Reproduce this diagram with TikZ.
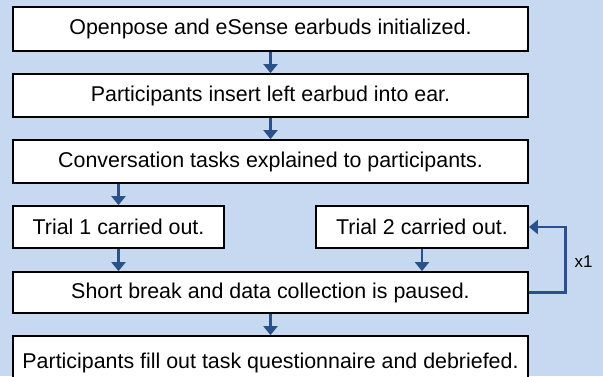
\documentclass[tikz,border=0pt]{standalone}
\usepackage{fontspec}
\setmainfont{Liberation Sans}
\usetikzlibrary{arrows.meta}
\definecolor{bgblue}{HTML}{C6D9F1}
\definecolor{flowblue}{HTML}{2A5189}
\tikzset{
  stepbox/.style={draw=black, line width=1.8pt, fill=white, rectangle,
    inner sep=0pt, align=center, font=\fontsize{21.4}{24}\selectfont},
  flow/.style={draw=flowblue, line width=2.2pt,
    -{Triangle[width=14pt,length=9pt]}},
  note/.style={font=\fontsize{17}{20}\selectfont, inner sep=0pt}
}
\begin{document}
\begin{tikzpicture}[x=1pt,y=-1pt]
  \useasboundingbox (0,0) rectangle (603,376);
  \clip (0,0) rectangle (603,376);
  \fill[bgblue] (0,0) rectangle (603,376);

  \node[stepbox, minimum width=515pt, minimum height=44pt] (init) at (270.5,29)
    {Openpose and eSense earbuds initialized.};
  \node[stepbox, minimum width=515pt, minimum height=43pt] (insert) at (270.5,95.5)
    {Participants insert left earbud into ear.};
  \node[stepbox, minimum width=515pt, minimum height=43pt] (explain) at (270.5,161.5)
    {Conversation tasks explained to participants.};
  \node[stepbox, minimum width=211pt, minimum height=42pt] (trialA) at (118.5,227)
    {Trial 1 carried out.};
  \node[stepbox, minimum width=212pt, minimum height=42pt] (trialB) at (422,227)
    {Trial 2 carried out.};
  \node[stepbox, minimum width=515pt, minimum height=41pt] (pause) at (270.5,292.5)
    {Short break and data collection is paused.};
  \node[stepbox, minimum width=515pt, minimum height=54pt] (final) at (270.5,363)
    {Participants fill out task questionnaire and debriefed.};

  \coordinate (loopR) at (565.5,0);
  \node[note] (rep) at (583.5,261.5) {x1};

  \draw[flow] (init) -- (insert);
  \draw[flow] (insert) -- (explain);
  \draw[flow] (explain.south -| trialA) -- (trialA);
  \draw[flow] (trialA) -- (trialA |- pause.north);
  \draw[flow] (trialB) -- (trialB |- pause.north);
  \draw[flow] (pause) -- (final);
  \draw[flow] (pause.east) -- (pause.east -| loopR) -- (trialB.east -| loopR) -- (trialB.east);
\end{tikzpicture}
\end{document}
